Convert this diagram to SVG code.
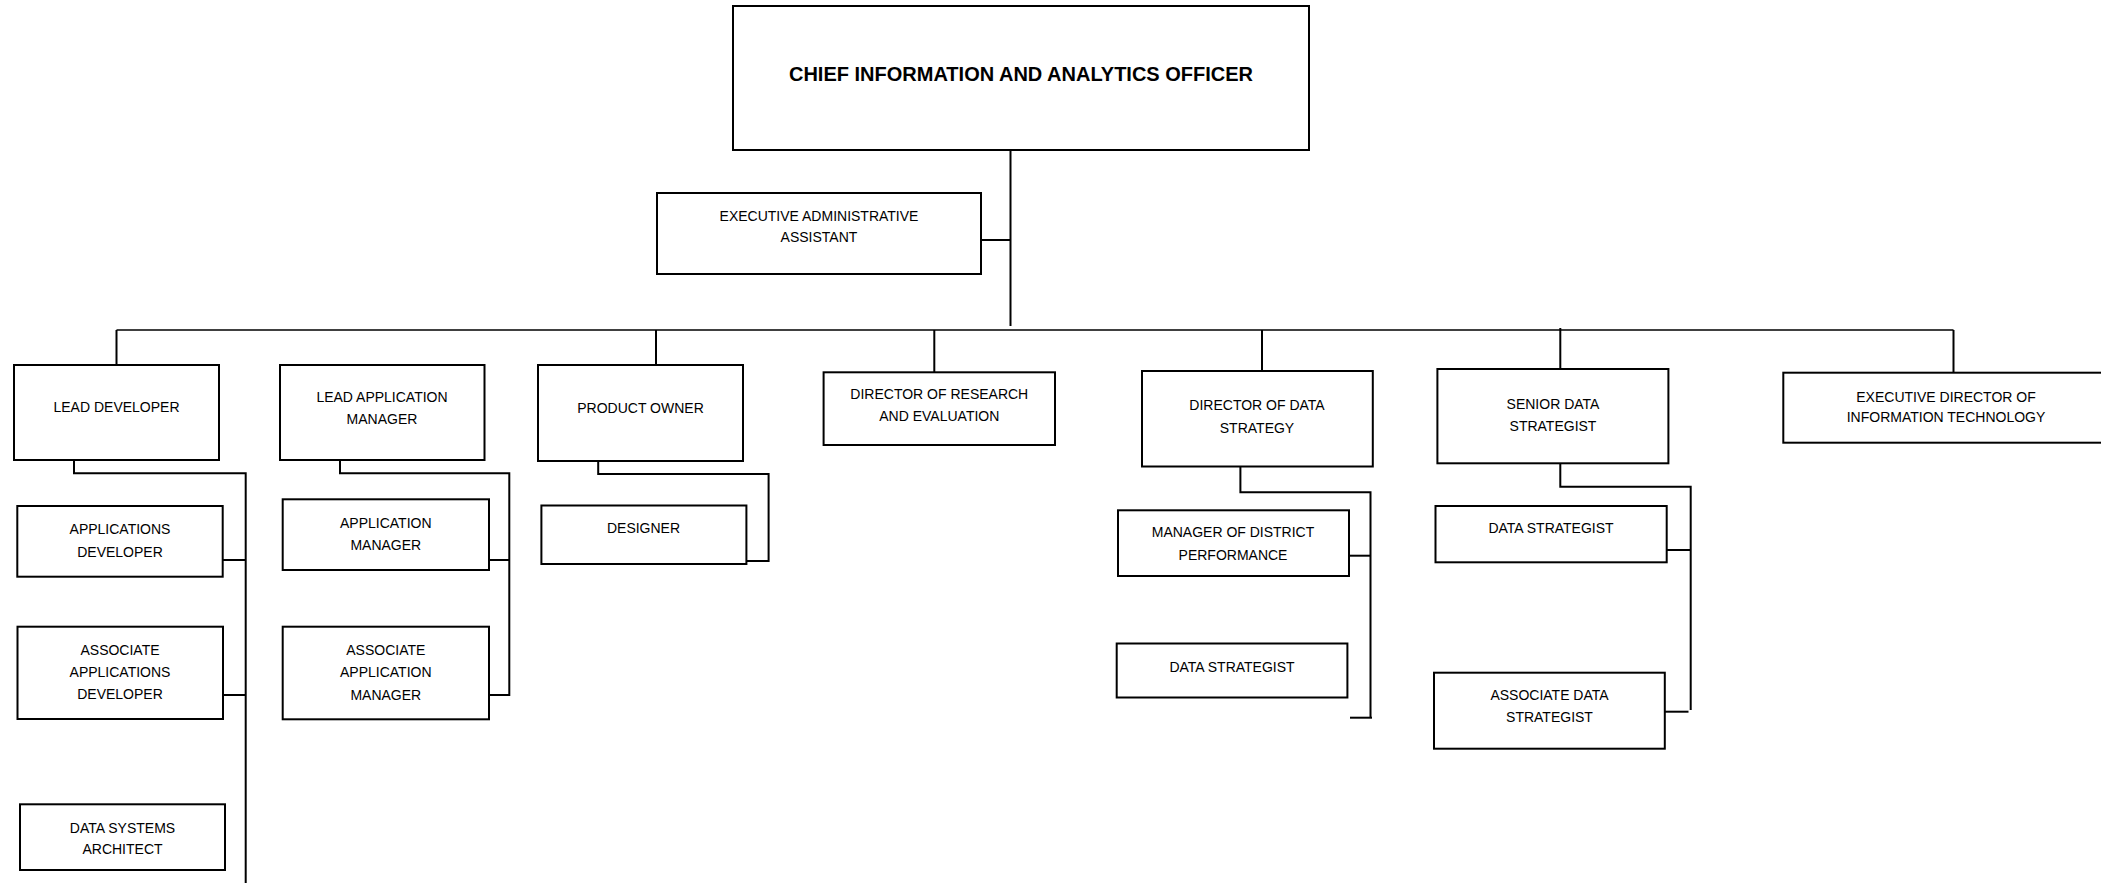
<svg xmlns="http://www.w3.org/2000/svg" width="2101" height="883" viewBox="0 0 2101 883">
<style>
.box{fill:#fff;stroke:#000;stroke-width:2}
.t{font-family:"Liberation Sans",Arial,sans-serif;font-size:14px;fill:#000;text-anchor:middle}
.title{font-family:"Liberation Sans",Arial,sans-serif;font-size:20px;font-weight:bold;fill:#000;text-anchor:middle}
.c{fill:none;stroke:#000;stroke-width:2}
.bus{fill:none;stroke:#000;stroke-width:1.3}
</style>
<rect width="2101" height="883" fill="#fff"/>
<g id="connectors">
<line class="c" x1="1010.5" y1="150" x2="1010.5" y2="326"/>
<line class="c" x1="981" y1="240" x2="1010.5" y2="240"/>
<line class="bus" x1="116.5" y1="330" x2="1953.5" y2="330"/>
<line class="c" x1="116.5" y1="330" x2="116.5" y2="365"/>
<line class="c" x1="656" y1="330" x2="656" y2="365"/>
<line class="c" x1="934.3" y1="330" x2="934.3" y2="372"/>
<line class="c" x1="1262" y1="330" x2="1262" y2="371"/>
<line class="c" x1="1560.3" y1="328" x2="1560.3" y2="371"/>
<line class="c" x1="1953.5" y1="330" x2="1953.5" y2="376"/>
<polyline class="c" points="74,460 74,473.3 245.7,473.3 245.7,883"/>
<line class="c" x1="222.7" y1="560" x2="245.7" y2="560"/>
<line class="c" x1="223" y1="695" x2="245.7" y2="695"/>
<polyline class="c" points="340,460 340,473.3 509.3,473.3 509.3,695 489,695"/>
<line class="c" x1="489" y1="560" x2="509.3" y2="560"/>
<polyline class="c" points="598.2,461 598.2,474 768.6,474 768.6,561 746.4,561"/>
<polyline class="c" points="1240.4,466 1240.4,492.3 1370.5,492.3 1370.5,717.7"/>
<line class="c" x1="1349" y1="555.7" x2="1370.5" y2="555.7"/>
<line class="c" x1="1350" y1="717.7" x2="1372" y2="717.7"/>
<polyline class="c" points="1560.3,463 1560.3,486.7 1690.7,486.7 1690.7,710"/>
<line class="c" x1="1667" y1="550" x2="1690.7" y2="550"/>
<line class="c" x1="1665" y1="711.7" x2="1688.5" y2="711.7"/>
</g>
<g id="cio">
<rect class="box" x="733" y="6" width="576" height="144"/>
<text class="title" x="1021" y="80.5">CHIEF INFORMATION AND ANALYTICS OFFICER</text>
</g>
<g id="exec-admin">
<rect class="box" x="657" y="193" width="324" height="81"/>
<text class="t" x="819" y="221">EXECUTIVE ADMINISTRATIVE</text>
<text class="t" x="819" y="242">ASSISTANT</text>
</g>
<g id="lead-developer">
<rect class="box" x="14" y="365" width="205" height="95"/>
<text class="t" x="116.5" y="412">LEAD DEVELOPER</text>
</g>
<g id="applications-developer">
<rect class="box" x="17.3" y="506" width="205.4" height="70.7"/>
<text class="t" x="120" y="534.3">APPLICATIONS</text>
<text class="t" x="120" y="556.7">DEVELOPER</text>
</g>
<g id="associate-applications-developer">
<rect class="box" x="17.5" y="626.7" width="205.5" height="92.3"/>
<text class="t" x="120" y="655">ASSOCIATE</text>
<text class="t" x="120" y="676.7">APPLICATIONS</text>
<text class="t" x="120" y="699">DEVELOPER</text>
</g>
<g id="data-systems-architect">
<rect class="box" x="20" y="804.3" width="205" height="65.7"/>
<text class="t" x="122.5" y="832.7">DATA SYSTEMS</text>
<text class="t" x="122.5" y="854.3">ARCHITECT</text>
</g>
<g id="lead-application-manager">
<rect class="box" x="280" y="365" width="204.5" height="95"/>
<text class="t" x="382" y="401.5">LEAD APPLICATION</text>
<text class="t" x="382" y="424">MANAGER</text>
</g>
<g id="application-manager">
<rect class="box" x="282.7" y="499.3" width="206.3" height="70.7"/>
<text class="t" x="385.8" y="527.7">APPLICATION</text>
<text class="t" x="385.8" y="550">MANAGER</text>
</g>
<g id="associate-application-manager">
<rect class="box" x="282.7" y="626.7" width="206.3" height="92.6"/>
<text class="t" x="385.8" y="655">ASSOCIATE</text>
<text class="t" x="385.8" y="677.3">APPLICATION</text>
<text class="t" x="385.8" y="700">MANAGER</text>
</g>
<g id="product-owner">
<rect class="box" x="538" y="365" width="205" height="96"/>
<text class="t" x="640.5" y="413">PRODUCT OWNER</text>
</g>
<g id="designer">
<rect class="box" x="541.4" y="505.5" width="205" height="58.5"/>
<text class="t" x="643.5" y="533">DESIGNER</text>
</g>
<g id="director-research">
<rect class="box" x="823.6" y="372.3" width="231.4" height="72.7"/>
<text class="t" x="939.3" y="399">DIRECTOR OF RESEARCH</text>
<text class="t" x="939.3" y="420.5">AND EVALUATION</text>
</g>
<g id="director-data-strategy">
<rect class="box" x="1142" y="371" width="230.8" height="95.5"/>
<text class="t" x="1257" y="410">DIRECTOR OF DATA</text>
<text class="t" x="1257" y="433">STRATEGY</text>
</g>
<g id="manager-district-performance">
<rect class="box" x="1118" y="510.3" width="231" height="65.7"/>
<text class="t" x="1233" y="537">MANAGER OF DISTRICT</text>
<text class="t" x="1233" y="560">PERFORMANCE</text>
</g>
<g id="data-strategist-left">
<rect class="box" x="1116.7" y="643.5" width="230.7" height="54"/>
<text class="t" x="1232" y="671.5">DATA STRATEGIST</text>
</g>
<g id="senior-data-strategist">
<rect class="box" x="1437.4" y="369" width="231" height="94.3"/>
<text class="t" x="1553" y="409">SENIOR DATA</text>
<text class="t" x="1553" y="431">STRATEGIST</text>
</g>
<g id="data-strategist-right">
<rect class="box" x="1435.5" y="506" width="231.2" height="56.3"/>
<text class="t" x="1551" y="533">DATA STRATEGIST</text>
</g>
<g id="associate-data-strategist">
<rect class="box" x="1434" y="672.7" width="230.8" height="76"/>
<text class="t" x="1549.5" y="700">ASSOCIATE DATA</text>
<text class="t" x="1549.5" y="721.5">STRATEGIST</text>
</g>
<g id="exec-director-it">
<rect class="box" x="1783.3" y="372.7" width="326" height="70"/>
<text class="t" x="1946" y="401.5">EXECUTIVE DIRECTOR OF</text>
<text class="t" x="1946" y="421.5">INFORMATION TECHNOLOGY</text>
</g>
</svg>
